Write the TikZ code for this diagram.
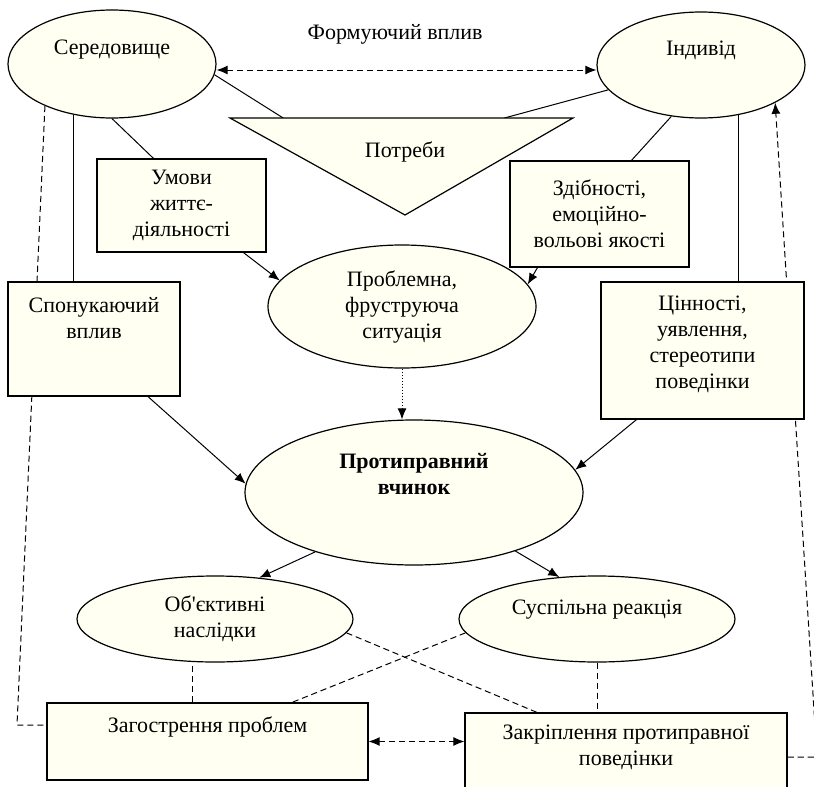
\documentclass[tikz,border=0pt]{standalone}
\usepackage{fontspec}
\setmainfont{Liberation Serif}
\usepackage{tikz}
\usetikzlibrary{shapes.geometric, positioning, calc, arrows.meta, backgrounds}

\definecolor{paleyellow}{RGB}{255,255,242}

\tikzset{
  oval/.style={ellipse, draw, fill=paleyellow, line width=0.6pt, inner sep=0pt, align=center},
  blk/.style={rectangle, draw, fill=paleyellow, line width=0.6pt, inner sep=0pt, align=center},
  link/.style={line width=0.5pt},
  dlink/.style={line width=0.5pt, dash pattern=on 3.1pt off 1.9pt}
}

\begin{document}
\begin{tikzpicture}[x=0.5pt, y=-0.5pt, >={Latex[length=5.5pt,width=4.5pt]},
  every node/.style={font=\fontsize{11}{13}\selectfont}]
\useasboundingbox (0,0) rectangle (814,787);

% top row
\node[oval, minimum width=104pt, minimum height=54pt,
  label={[name=sertxt, yshift=7pt]center:Середовище}] (ser) at (112,64) {};
\node[oval, minimum width=104pt, minimum height=53pt,
  label={[name=indtxt, yshift=7.5pt]center:Індивід}] (ind) at (701,65) {};

% needs triangle
\coordinate (ta) at (230,118);
\coordinate (tb) at (573,118);
\coordinate (tc) at (405,215);
\draw[fill=paleyellow, line width=0.6pt] (ta) -- (tb) -- (tc) -- cycle;
\node (potr) at (405,152) {Потреби};

% conditions
\node[blk, minimum width=84.5pt, minimum height=46.5pt] (umovy) at (181.5,205.5) {Умови\\життє-\\діяльності};
\node[blk, minimum width=89.5pt, minimum height=53pt] (zdib) at (599.5,214) {Здібності,\\емоційно-\\вольові якості};
\node[oval, minimum width=134pt, minimum height=61.5pt] (probl) at (402,306.5) {Проблемна,\\фруструюча\\ситуація};

\node[blk, minimum width=86pt, minimum height=57pt,
  label={[name=spontxt, yshift=10.5pt, align=center]center:Спонукаючий\\вплив}] (spon) at (94,339) {};
\node[blk, minimum width=101.5pt, minimum height=68.5pt,
  label={[name=cinntxt, yshift=3pt, align=center]center:Цінності,\\уявлення,\\стереотипи\\поведінки}] (cinn) at (702.5,350.5) {};

% the act
\node[oval, minimum width=169pt, minimum height=72.5pt,
  label={[name=prottxt, yshift=9pt, align=center]center:\textbf{Протиправний}\\\textbf{вчинок}}] (prot) at (414,492.5) {};

% results
\node[oval, minimum width=138pt, minimum height=43pt] (ob) at (215,619) {Об\textquotesingle{}єктивні\\наслідки};
\node[oval, minimum width=138pt, minimum height=43pt,
  label={[name=susptxt, yshift=4.5pt]center:Суспільна реакція}] (susp) at (597,619) {};

\node[blk, minimum width=160.5pt, minimum height=38.5pt,
  label={[name=zagtxt, yshift=7.25pt]center:Загострення проблем}] (zag) at (207.5,741.5) {};
\node[blk, minimum width=161pt, minimum height=44pt,
  label={[name=zaktxt, yshift=4.75pt, align=center]center:Закріплення протиправної\\поведінки}] (zak) at (626,757) {};

\begin{scope}[on background layer]
% solid links
\draw[link] (ser.354) -- ($(ta)!0.155!(tb)$);
\draw[link] (ind.195) -- ($(ta)!0.8!(tb)$);
\draw[link] (ser.south) -- ([xshift=-14pt]umovy.north);
\draw[link] (ind.240) -- ([xshift=16pt]zdib.north);
\draw[link] (ser.233) -- (ser.233 |- spon.north);
\draw[link] (ind.307) -- (ind.307 |- cinn.north);

% arrows
\draw[link, ->] ([xshift=31pt]umovy.south) -- (probl.168);
\draw[link, ->] ([xshift=-31pt]zdib.south) -- (probl.10);
\draw[link, ->, densely dotted] (probl.south) -- (probl.south |- prot.north);
\draw[link, ->] ([xshift=27pt]spon.south) -- (prot.177);
\draw[link, ->] ([xshift=-33pt]cinn.south) -- (prot.8);
\draw[link, ->] (prot.211) -- (ob.43);
\draw[link, ->] (prot.330) -- (susp.132);

% dashed feedback
\draw[dlink, <->] ([yshift=-3pt]ser.east) -- ([yshift=-3pt]ser.east -| ind.west)
  node[pos=0.47, yshift=18pt] (form) {Формуючий вплив};
\coordinate (lbend) at (17,725);
\coordinate (rbend) at (817,757);
\draw[dlink] (ser.212) -- (lbend) -- (lbend -| zag.west);
\draw[dlink, ->] (zak.east) -- (rbend) -- (ind.333);
\draw[dlink] ([xshift=-7.75pt]zag.north) -- ([xshift=-7.75pt]zag.north |- ob.south);
\draw[dlink] (susp.south) -- (susp.south |- zak.north);
\draw[dlink] (ob.354) -- ([xshift=-44.5pt]zak.north);
\draw[dlink] (susp.186) -- ([xshift=42.25pt]zag.north);
\draw[dlink, <->] (zag.east) -- (zag.east -| zak.west);
\end{scope}
\end{tikzpicture}
\end{document}
